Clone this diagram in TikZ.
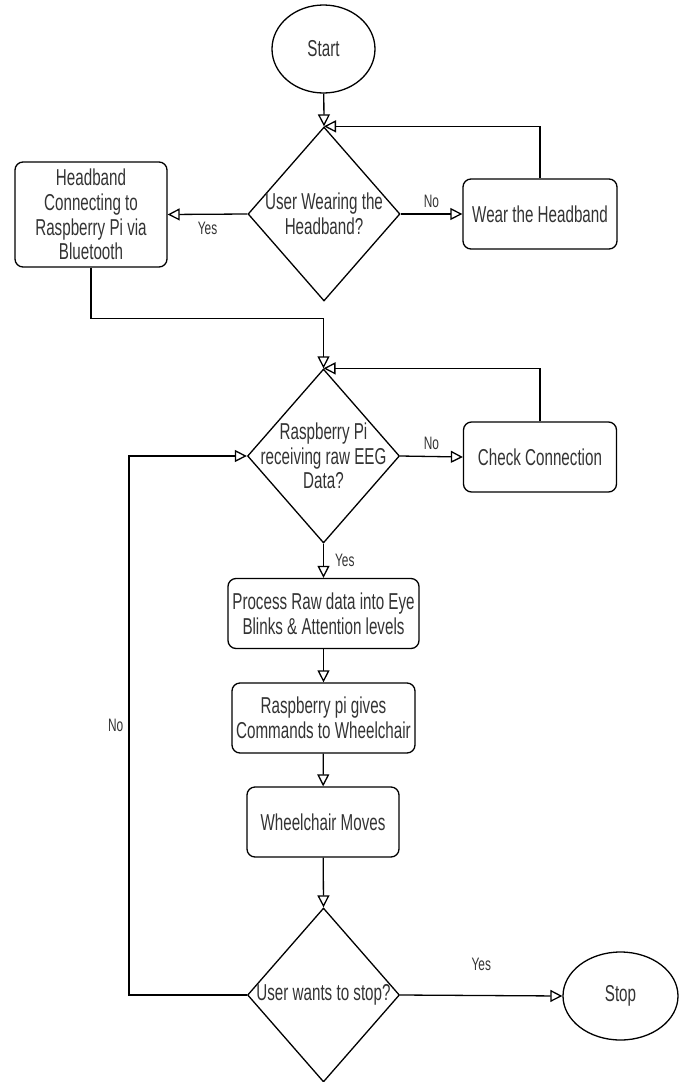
\documentclass[tikz,border=0pt]{standalone}
\usepackage{fontspec}
\setmainfont{Liberation Sans}[FakeStretch=0.66]
\usetikzlibrary{shapes.geometric,arrows.meta}

\begin{document}
\begin{tikzpicture}[x=1pt, y=-1pt, >={Triangle[open, length=12pt, width=12pt]}, line width=1.3pt,
    txt/.style={font=\fontsize{23}{24.7}\selectfont, text=black!80, align=center},
    lbl/.style={font=\fontsize{18}{20}\selectfont, text=black!80, inner sep=2pt},
    proc/.style={draw, rounded corners=8pt, txt, inner sep=0pt, minimum width=#1, minimum height=70pt},
    term/.style={draw, ellipse, txt, inner sep=0pt},
    decision/.style={draw, diamond, inner sep=0pt, minimum width=152pt, minimum height=174pt}]
    \useasboundingbox (0, 0) rectangle (685, 1082);
    % shapes
    \node[term, minimum width=103pt, minimum height=88pt] (start) at (323.5, 49) {Start};
    \node[decision, label={[txt]center:User Wearing the\\Headband?}] (wearing) at (324, 214) {};
    \node[proc=152pt, minimum height=105pt] (connect) at (91, 214.5)
      {Headband\\Connecting to\\Raspberry Pi via\\Bluetooth};
    \node[proc=154pt] (puton) at (540, 214) {Wear the Headband};
    \node[decision, label={[txt]center:Raspberry Pi\\receiving raw EEG\\Data?}] (receive) at (323.5, 456) {};
    \node[proc=153pt] (check) at (540, 457) {Check Connection};
    \node[proc=191pt] (process) at (323.5, 613.5) {Process Raw data into Eye\\Blinks \& Attention levels};
    \node[proc=183pt] (command) at (323.5, 718) {Raspberry pi gives\\Commands to Wheelchair};
    \node[proc=152pt] (moves) at (323, 822) {Wheelchair Moves};
    \node[decision, label={[txt]center:User wants to stop?}] (wantstop) at (323.5, 995) {};
    \node[term, minimum width=115pt, minimum height=88pt] (stop) at (620.5, 996) {Stop};
    \coordinate (back) at (129, 995);
    % connectors
    \draw[->] (start) -- (wearing.north);
    \draw[->] (wearing.west) -- node[lbl, below=5pt] {Yes} (connect.east);
    \draw[->] (wearing.east) -- node[lbl, above=4pt] {No} (puton.west);
    \draw[->] (puton.north) |- (wearing.north);
    \draw[->] (connect.south) -- ++(0, 51) -| (receive.north);
    \draw[->] (receive.east) -- node[lbl, above=4pt] {No} (check.west);
    \draw[->] (check.north) |- (receive.north);
    \draw[->] (receive.south) -- node[lbl, right=9pt] {Yes} (process.north);
    \draw[->] (process) -- (command);
    \draw[->] (command) -- (moves);
    \draw[->] (moves) -- (wantstop.north);
    \draw[->] (wantstop.west) -- (back) |- node[lbl, pos=0.25, left=3pt] {No} (receive.west);
    \draw[->] (wantstop.east) -- node[lbl, above=22pt] {Yes} (stop.west);
\end{tikzpicture}
\end{document}
